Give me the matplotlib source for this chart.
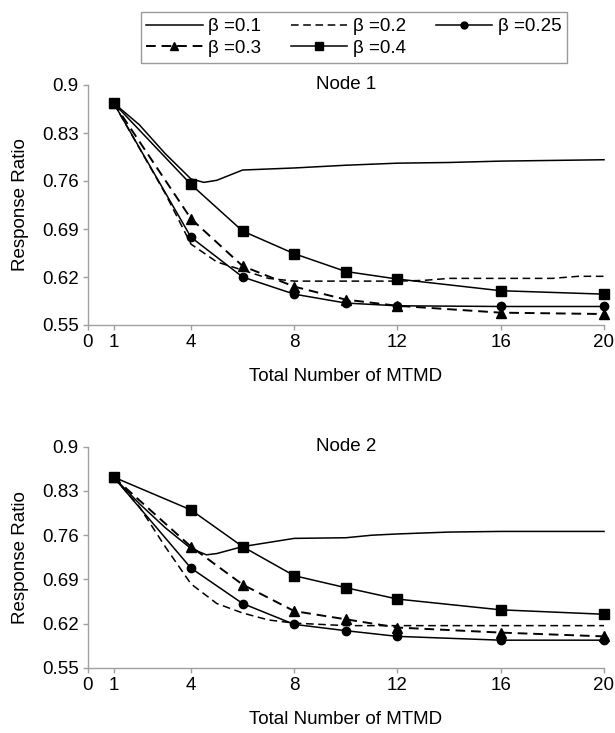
import matplotlib
matplotlib.use("Agg")
import matplotlib.pyplot as plt
from matplotlib.lines import Line2D

plt.rcParams['font.family'] = ['Liberation Sans', 'DejaVu Sans']

# ---- data ----
x_marked = [1, 4, 6, 8, 10, 12, 16, 20]
x_ticks = [0, 1, 4, 8, 12, 16, 20]
y_ticks = [0.55, 0.62, 0.69, 0.76, 0.83, 0.9]
y_ticklabels = ["0.55", "0.62", "0.69", "0.76", "0.83", "0.9"]
titles = ["Node 1", "Node 2"]
labels = ["\u03b2 =0.1", "\u03b2 =0.2", "\u03b2 =0.25", "\u03b2 =0.3", "\u03b2 =0.4"]

# Node 1
n1_b01_x = [1, 2, 3, 4, 4.5, 5, 6, 8, 10, 12, 14, 16, 18, 20]
n1_b01 = [0.874, 0.842, 0.800, 0.763, 0.758, 0.761, 0.776, 0.779, 0.783, 0.786, 0.787, 0.789, 0.790, 0.791]
n1_b02_x = [1, 2, 3, 4, 5, 6, 7, 8, 10, 12, 13, 14, 16, 18, 19, 20]
n1_b02 = [0.874, 0.808, 0.742, 0.668, 0.642, 0.630, 0.618, 0.614, 0.614, 0.614, 0.615, 0.618, 0.618, 0.618, 0.621, 0.621]
n1_b025 = [0.874, 0.678, 0.620, 0.595, 0.582, 0.578, 0.577, 0.577]
n1_b03 = [0.874, 0.705, 0.636, 0.606, 0.587, 0.578, 0.568, 0.566]
n1_b04 = [0.874, 0.755, 0.687, 0.654, 0.628, 0.617, 0.600, 0.595]

# Node 2
n2_b01_x = [1, 2, 3, 4, 4.6, 5, 6, 8, 10, 11, 12, 14, 16, 20]
n2_b01 = [0.852, 0.810, 0.772, 0.739, 0.729, 0.731, 0.742, 0.755, 0.756, 0.760, 0.762, 0.765, 0.766, 0.766]
n2_b02_x = [1, 2, 3, 4, 5, 6, 7, 8, 10, 12, 16, 20]
n2_b02 = [0.852, 0.805, 0.742, 0.683, 0.652, 0.637, 0.626, 0.621, 0.617, 0.617, 0.617, 0.617]
n2_b025 = [0.852, 0.708, 0.652, 0.619, 0.609, 0.600, 0.594, 0.594]
n2_b03 = [0.852, 0.742, 0.682, 0.640, 0.627, 0.614, 0.606, 0.600]
n2_b04 = [0.852, 0.800, 0.742, 0.696, 0.677, 0.659, 0.642, 0.635]

panels = [
    (n1_b01_x, n1_b01, n1_b02_x, n1_b02, n1_b025, n1_b03, n1_b04),
    (n2_b01_x, n2_b01, n2_b02_x, n2_b02, n2_b025, n2_b03, n2_b04),
]

W, H = 615, 733
fig = plt.figure(figsize=(W / 100, H / 100), dpi=100)
AX_L, AX_R = 87.7, 604.0
AX_W = AX_R - AX_L
ax_rects = [
    [AX_L / W, 1 - 325 / H, AX_W / W, 240 / H],
    [AX_L / W, 1 - 668 / H, AX_W / W, 221.3 / H],
]
FS = 13.5
GRAY = '#a0a0a0'
dash = (0, (5, 3))

for i, (rect, data) in enumerate(zip(ax_rects, panels)):
    x01, y01, x02, y02, y025, y03, y04 = data
    ax = fig.add_axes(rect)
    ax.plot(x01, y01, color='black', lw=1.1, clip_on=False)
    ax.plot(x02, y02, color='black', lw=1.1, linestyle=dash, clip_on=False)
    ax.plot(x_marked, y025, color='black', lw=1.1, marker='o', ms=6, clip_on=False)
    ax.plot(x_marked, y03, color='black', lw=1.4, linestyle=dash, marker='^', ms=7, clip_on=False)
    ax.plot(x_marked, y04, color='black', lw=1.1, marker='s', ms=7, clip_on=False)
    ax.set_xlim(0, 20)
    ax.set_ylim(0.55, 0.9)
    ax.set_xticks(x_ticks)
    ax.set_xticklabels([str(t) for t in x_ticks])
    ax.set_yticks(y_ticks)
    ax.set_yticklabels(y_ticklabels)
    for s in ['top', 'right']:
        ax.spines[s].set_visible(False)
    for s in ['left', 'bottom']:
        ax.spines[s].set_color(GRAY)
        ax.spines[s].set_linewidth(1.0)
    ax.tick_params(axis='both', colors=GRAY, labelcolor='black', labelsize=FS,
                   length=3.5, width=1.0, direction='out', pad=3)
    ax.text(0.5, 1.0, titles[i], transform=ax.transAxes, ha='center', va='center', fontsize=FS)
    ax.set_xlabel("Total Number of MTMD", fontsize=FS)
    ax.set_ylabel("Response Ratio", fontsize=FS)
    hpx = rect[3] * H
    ax.xaxis.set_label_coords(0.5, -(43 / hpx))
    ax.yaxis.set_label_coords(-(AX_L - 29) / AX_W, 0.5)

handles = [
    Line2D([], [], color='black', lw=1.1),
    Line2D([], [], color='black', lw=1.1, linestyle=dash),
    Line2D([], [], color='black', lw=1.1, marker='o', ms=5),
    Line2D([], [], color='black', lw=1.4, linestyle=dash, marker='^', ms=6),
    Line2D([], [], color='black', lw=1.1, marker='s', ms=6),
]
order = [0, 3, 1, 4, 2]
leg = fig.legend([handles[k] for k in order], [labels[k] for k in order],
                 ncol=3, loc='upper center', bbox_to_anchor=(354 / W, 1 - 3 / H),
                 fontsize=FS, frameon=True, fancybox=False, edgecolor='#808080',
                 handlelength=3.0, handletextpad=0.3, columnspacing=1.6,
                 labelspacing=0.25, borderpad=0.3, numpoints=1)
leg.get_frame().set_linewidth(1.0)

fig.savefig("out.png", dpi=100)
